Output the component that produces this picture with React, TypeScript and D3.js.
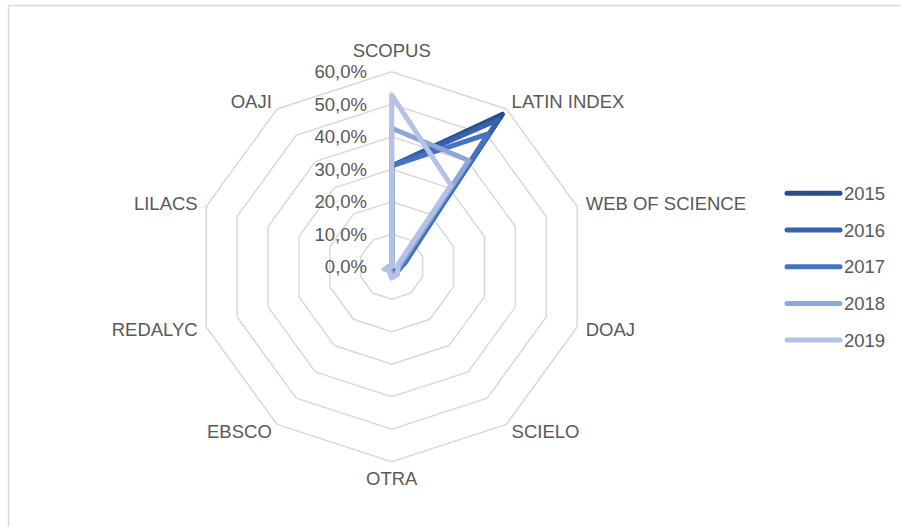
import React from "react";
import * as d3 from "d3";

const categories = ["SCOPUS", "LATIN INDEX", "WEB OF SCIENCE", "DOAJ", "SCIELO", "OTRA", "EBSCO", "REDALYC", "LILACS", "OAJI"];
const years = ["2015", "2016", "2017", "2018", "2019"];
const v2015 = [31, 58, 4, 2, 2, 1, 1, 1.5, 0.5, 0];
const v2016 = [31, 56, 4, 2, 2, 1, 1, 1.5, 0.5, 0];
const v2017 = [31, 50.5, 4.5, 2.5, 2, 1.5, 1, 1.5, 0.5, 0];
const v2018 = [42.6, 40.4, 3, 2, 2.5, 2.5, 1, 2, 0.5, 0];
const v2019 = [52.8, 31, 2, 2, 3, 3.5, 1.5, 2.5, 0.5, 0];
const seriesValues = [v2015, v2016, v2017, v2018, v2019];
const colors = ["#2c4d8c", "#3760ad", "#4472c4", "#8fa7d8", "#b4c2e5"];
const ticks = [0, 10, 20, 30, 40, 50, 60];

const W = 901;
const H = 527;
const cx = 391.7;
const cy = 266.7;
const R = 195;

export default function App() {
  const r = d3.scaleLinear().domain([0, 60]).range([0, R]);
  const angle = (i: number) => (i * 2 * Math.PI) / categories.length;
  const line = d3
    .lineRadial<number>()
    .angle((_, i) => angle(i))
    .radius((d) => r(d))
    .curve(d3.curveLinearClosed);
  const ringLine = d3
    .lineRadial<string>()
    .angle((_, i) => angle(i))
    .curve(d3.curveLinearClosed);
  const font = "'Liberation Sans', Arial, sans-serif";
  const textColor = "#595959";
  const fs = 18.5;

  return (
    <svg
      width={W}
      height={H}
      style={{ position: "absolute", left: 0, top: 0, background: "#fff" }}
      fontFamily={font}
    >
      <rect x={8.5} y={5.5} width={2000} height={2000} fill="#fff" stroke="#d9d9d9" strokeWidth={1.5} />
      <g transform={`translate(${cx},${cy})`}>
        {ticks.slice(1).map((t) => (
          <path
            key={t}
            d={ringLine.radius(() => r(t))(categories) || ""}
            fill="none"
            stroke="#d9d9d9"
            strokeWidth={1.5}
          />
        ))}
        {seriesValues.map((vals, si) => (
          <path
            key={years[si]}
            d={line(vals) || ""}
            fill="none"
            stroke={colors[si]}
            strokeWidth={5}
            strokeLinejoin="round"
            strokeLinecap="round"
          />
        ))}
        {ticks.map((t) => (
          <text
            key={t}
            x={367 - cx}
            y={-r(t)}
            textAnchor="end"
            dominantBaseline="central"
            fontSize={fs}
            fill={textColor}
          >
            {t.toFixed(1).replace(".", ",") + "%"}
          </text>
        ))}
        {categories.map((c, i) => {
          const a = angle(i);
          const s = Math.sin(a);
          const co = Math.cos(a);
          const lr = 204;
          let x = lr * s;
          let y = -lr * co;
          let anchor: "start" | "end" | "middle" = "middle";
          if (s > 0.1) anchor = "start";
          else if (s < -0.1) anchor = "end";
          else {
            x = 0;
            y = co > 0 ? y - 12 : y + 8;
          }
          return (
            <text
              key={c}
              x={x}
              y={y}
              textAnchor={anchor}
              dominantBaseline="central"
              fontSize={fs}
              fill={textColor}
            >
              {c}
            </text>
          );
        })}
      </g>
      <g>
        {years.map((yr, i) => {
          const y = 193.3 + i * 36.7;
          return (
            <g key={yr}>
              <line
                x1={787}
                x2={840}
                y1={y}
                y2={y}
                stroke={colors[i]}
                strokeWidth={5}
                strokeLinecap="round"
              />
              <text x={844} y={y} dominantBaseline="central" fontSize={fs} fill={textColor}>
                {yr}
              </text>
            </g>
          );
        })}
      </g>
    </svg>
  );
}
